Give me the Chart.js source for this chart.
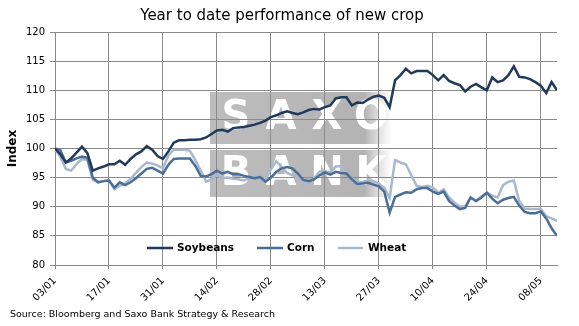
<!DOCTYPE html>
<html>
<head>
<meta charset="utf-8">
<script src="https://cdn.jsdelivr.net/npm/chart.js@4.4.1/dist/chart.umd.min.js"></script>
<style>
  html, body { margin: 0; padding: 0; background: #fff; }
  #wrap { width: 579px; height: 326px; position: relative; }
</style>
</head>
<body>
<div id="wrap"><canvas id="crops"></canvas></div>
<script>
// x axis tick labels, one every 10 trading days
const tickLabels = ['03/01', '17/01', '31/01', '14/02', '28/02', '13/03', '27/03', '10/04', '24/04', '08/05'];

// daily index values, 03/01 = 100
const soybeans = [
  100, 99.0, 97.6, 98.3, 99.3, 100.3, 99.2, 96.2, 96.6, 96.9,
  97.3, 97.3, 97.9, 97.2, 98.2, 99.0, 99.5, 100.4, 99.8, 98.7,
  98.2, 99.5, 101.0, 101.4, 101.4, 101.5, 101.5, 101.6, 101.9, 102.5,
  103.1, 103.2, 102.9, 103.5, 103.6, 103.7, 103.9, 104.1, 104.4, 104.8,
  105.4, 105.7, 106.1, 106.4, 106.1, 105.9, 106.2, 106.6, 106.8, 106.7,
  107.1, 107.4, 108.6, 108.8, 108.8, 107.4, 107.9, 107.8, 108.4, 108.9,
  109.1, 108.7, 107.1, 111.7, 112.6, 113.7, 112.9, 113.3, 113.3, 113.3,
  112.6, 111.7, 112.6, 111.6, 111.2, 110.9, 109.8, 110.6, 111.1, 110.5,
  110.0, 112.2, 111.4, 111.7, 112.6, 114.1, 112.3, 112.2, 111.9, 111.4,
  110.8, 109.5, 111.4, 110.0
];
const corn = [
  100, 99.7, 97.6, 97.9, 98.3, 98.6, 98.4, 95.0, 94.2, 94.4,
  94.5, 93.3, 94.2, 93.7, 94.2, 94.9, 95.7, 96.5, 96.7, 96.2,
  95.7, 97.2, 98.2, 98.3, 98.3, 98.3, 97.0, 95.3, 95.2, 95.6,
  96.2, 95.7, 96.0, 95.6, 95.6, 95.3, 95.1, 94.9, 95.1, 94.3,
  95.0, 96.0, 96.6, 96.8, 96.6, 95.7, 94.6, 94.4, 94.7, 95.4,
  95.9, 95.5, 96.0, 95.8, 95.7, 94.7, 93.9, 94.0, 94.1, 93.8,
  93.5, 92.6, 89.0, 91.7, 92.1, 92.5, 92.4, 93.0, 93.2, 93.2,
  92.6, 92.2, 92.6, 91.0, 90.2, 89.6, 89.8, 91.6, 91.0, 91.6,
  92.4, 91.4, 90.6, 91.2, 91.5, 91.7, 90.2, 89.1, 88.9, 88.9,
  89.2, 88.0, 86.3, 85.0
];
const wheat = [
  100, 98.5, 96.5, 96.2, 97.3, 98.2, 98.0, 94.6, 94.2, 94.4,
  94.6, 93.0, 93.6, 94.0, 94.8, 95.8, 96.8, 97.6, 97.4, 97.1,
  96.6, 98.8, 99.8, 99.8, 99.8, 99.6, 98.0, 96.2, 94.3, 94.7,
  95.5, 94.9, 95.0, 94.8, 94.7, 94.5, 94.9, 95.3, 94.7, 94.9,
  96.4, 97.8, 96.8, 95.8, 95.4, 95.0, 94.4, 94.0, 94.9, 96.0,
  96.1, 95.9, 96.9, 97.0, 95.6, 94.9, 94.2, 94.3, 94.5, 94.4,
  94.0, 93.2, 91.5, 98.0, 97.6, 97.3, 95.4, 93.6, 93.4, 93.6,
  93.3, 92.4, 93.0, 91.6, 90.7, 90.0, 90.1, 91.6, 91.0, 91.8,
  92.4, 91.9, 91.6, 93.7, 94.3, 94.5, 91.0, 89.7, 89.6, 89.6,
  89.6, 88.4, 88.0, 87.6
];

const seriesNames = ['Soybeans', 'Corn', 'Wheat'];
const seriesColors = ['#203a5a', '#4b6e96', '#a9b8cf'];

const FONT = 'DejaVu Sans';
const GRID = '#8a8a8a';

// background + SAXO BANK watermark, drawn under the grid
const watermark = {
    id: 'watermark',
    beforeDraw(chart) {
        const ctx = chart.ctx;
        ctx.save();
        ctx.fillStyle = '#fff';
        ctx.fillRect(0, 0, chart.width, chart.height);

        const boxes = [[92, 52, 'SAXO'], [150, 47, 'BANK']];
        boxes.forEach(([top, h, word]) => {
            const g = ctx.createLinearGradient(210, 0, 392, 0);
            g.addColorStop(0, '#bdbdbd');
            g.addColorStop(0.85, '#b3b3b3');
            g.addColorStop(1, 'rgba(200,200,200,0)');
            ctx.fillStyle = g;
            ctx.fillRect(210, top, 182, h);
            ctx.fillStyle = '#fff';
            ctx.font = 'bold 40px ' + FONT;
            ctx.textAlign = 'center';
            ctx.textBaseline = 'middle';
            [236, 281, 327, 371].forEach((cx, k) => ctx.fillText(word[k], cx, top + h / 2 + 1));
        });
        ctx.restore();
    }
};

// title, legend inside plot, source line
const decorations = {
    id: 'decorations',
    afterDraw(chart) {
        const ctx = chart.ctx;
        ctx.save();
        ctx.fillStyle = '#000';
        ctx.textBaseline = 'alphabetic';
        ctx.textAlign = 'center';
        ctx.font = '15px ' + FONT;
        ctx.fillText('Year to date performance of new crop', 282, 20);

        const legendPos = [[147, 173, 177], [257, 283, 287], [338, 363, 368]];
        ctx.textAlign = 'left';
        ctx.textBaseline = 'middle';
        ctx.font = 'bold 10.5px ' + FONT;
        chart.data.datasets.forEach((ds, i) => {
            const [x0, x1, tx] = legendPos[i];
            ctx.strokeStyle = ds.borderColor;
            ctx.lineWidth = 2.5;
            ctx.beginPath();
            ctx.moveTo(x0, 248);
            ctx.lineTo(x1, 248);
            ctx.stroke();
            ctx.fillStyle = '#000';
            ctx.fillText(ds.label, tx, 248.5);
        });

        ctx.font = '9.5px ' + FONT;
        ctx.textBaseline = 'middle';
        ctx.fillText('Source: Bloomberg and Saxo Bank Strategy & Research', 10, 315);
        ctx.restore();
    }
};

const seriesData = [soybeans, corn, wheat];

new Chart(document.getElementById('crops'), {
    type: 'line',
    data: {
        datasets: seriesData.map((vals, i) => ({
            label: seriesNames[i],
            data: vals.map((v, k) => ({ x: k, y: v })),
            borderColor: seriesColors[i],
            backgroundColor: seriesColors[i],
            borderWidth: 2.5,
            pointRadius: 0,
            tension: 0,
            fill: false
        }))
    },
    options: {
        responsive: true,
        maintainAspectRatio: false,
        animation: false,
        layout: { padding: { top: 32, right: 22, left: 0, bottom: 0 } },
        plugins: {
            legend: { display: false },
            title: { display: false },
            tooltip: { enabled: false }
        },
        scales: {
            x: {
                type: 'linear',
                min: 0,
                max: soybeans.length - 1,
                ticks: {
                    stepSize: 10,
                    includeBounds: false,
                    autoSkip: false,
                    maxRotation: 45,
                    minRotation: 45,
                    padding: 6,
                    color: '#000',
                    font: { family: FONT, size: 10 },
                    callback: (v) => tickLabels[v / 10]
                },
                grid: { color: GRID, tickLength: 4 },
                border: { color: GRID },
                afterFit: (s) => { s.height = 61; }
            },
            y: {
                min: 80,
                max: 120,
                ticks: {
                    stepSize: 5,
                    padding: 5,
                    color: '#000',
                    font: { family: FONT, size: 10 }
                },
                grid: { color: GRID, tickLength: 5 },
                border: { color: GRID },
                title: {
                    display: true,
                    text: 'Index',
                    color: '#000',
                    font: { family: FONT, size: 12, weight: 'bold' },
                    padding: { top: 6, bottom: 0 }
                },
                afterFit: (s) => { s.width = 55; }
            }
        }
    },
    plugins: [watermark, decorations]
});
</script>
</body>
</html>
